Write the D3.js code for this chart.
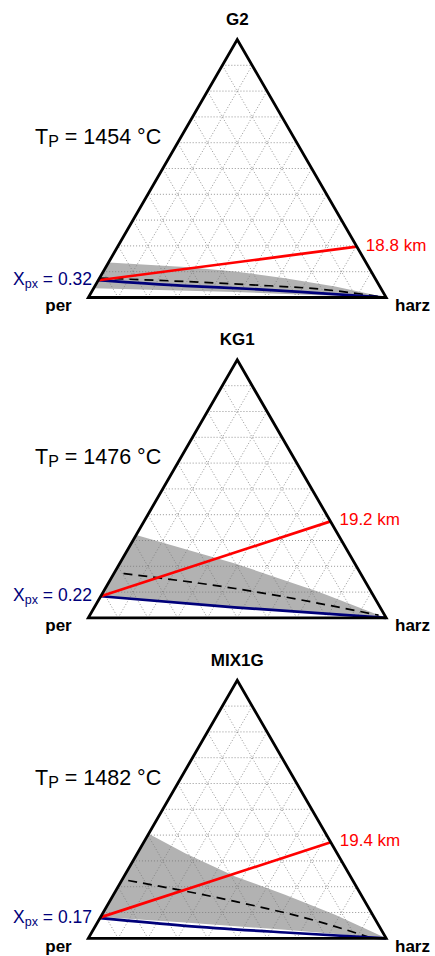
<!DOCTYPE html>
<html>
<head>
<meta charset="utf-8">
<script src="https://cdn.jsdelivr.net/npm/d3@7"></script>
<style>
  html, body { margin: 0; padding: 0; background: #fff; }
  svg { display: block; }
  text { font-family: "Liberation Sans", Arial, Helvetica, sans-serif; }
</style>
</head>
<body>
<svg id="chart" width="435" height="956"></svg>
<script>
'use strict';

// ternary points are [harz, top] fractions, per = 1 - harz - top
const panelNames = ['G2', 'KG1', 'MIX1G'];
const potentialTemps = ['1454', '1476', '1482'];
const xpxValues = ['0.32', '0.22', '0.17'];
const depthsKm = ['18.8', '19.2', '19.4'];

const redLines = [
    [[0, 0.067], [0.803, 0.197]],
    [[0, 0.084], [0.626, 0.374]],
    [[0, 0.081], [0.628, 0.372]]
];
const blueLines = [
    [[0, 0.067], [0.302, 0.045], [0.532, 0.033], [0.764, 0.017], [1, 0]],
    [[0, 0.084], [0.47, 0.041], [1, 0]],
    [[0, 0.078], [0.301, 0.0485], [0.65, 0.0225], [1, 0]]
];
const dashedLines = [
    [[0, 0.075], [0.294, 0.062], [0.524, 0.049], [0.756, 0.033], [1, 0]],
    [[0.032, 0.172], [0.436, 0.114], [0.969, 0.0105]],
    [[0.022, 0.224], [0.421, 0.143], [0.74, 0.065], [0.938, 0.005]]
];
const bandUpper = [
    [[0, 0.136], [0.266, 0.118], [0.442, 0.101], [0.623, 0.075], [0.807, 0.043], [1, 0]],
    [[0, 0.321], [0.387, 0.211], [0.722, 0.101], [1, 0]],
    [[0, 0.405], [0.16, 0.33], [0.373, 0.24], [0.576, 0.169], [0.783, 0.091], [1, 0]]
];
const bandLower = [
    [[0, 0.036], [0.482, 0.021], [0.767, 0.009], [1, 0]],
    [[0, 0.084], [0.47, 0.041], [1, 0]],
    [[0, 0.083], [0.294, 0.061], [0.644, 0.033], [1, 0]]
];
const gridSteps = [0.1, 0.2, 0.3, 0.4, 0.5, 0.6, 0.7, 0.8, 0.9];

const LEFT_X = 88.3;
const RIGHT_X = 386.2;
const TRI_HEIGHT = 258;
const FIRST_APEX = 39.5;
const PANEL_STEP = 320.4;
const RED = '#ff0000';
const NAVY = '#00007a';

const svg = d3.select('#chart');

const xScale = d3.scaleLinear().domain([0, 1]).range([LEFT_X, RIGHT_X]);

panelNames.forEach(function(name, k) {
    const apexY = FIRST_APEX + PANEL_STEP * k;
    const baseY = apexY + TRI_HEIGHT;
    const yScale = d3.scaleLinear().domain([0, 1]).range([baseY, apexY]);

    const px = function(p) { return xScale(p[0] + p[1] / 2); };
    const py = function(p) { return yScale(p[1]); };
    const line = d3.line().x(px).y(py);
    const curve = d3.line().x(px).y(py).curve(d3.curveMonotoneX);

    const g = svg.append('g').attr('class', 'panel');

    // grey range band
    const band = bandUpper[k].concat(bandLower[k].slice().reverse());
    g.append('path')
        .attr('d', d3.line().x(px).y(py)(band) + 'Z')
        .attr('fill', '#b2b2b2')
        .attr('stroke', 'none');

    // dotted ternary grid
    const gridLines = [];
    gridSteps.forEach(function(t) {
        gridLines.push([[0, t], [1 - t, t]]);
        gridLines.push([[t, 0], [t, 1 - t]]);
        gridLines.push([[1 - t, 0], [0, 1 - t]]);
    });
    g.append('g').selectAll('path')
        .data(gridLines)
        .join('path')
        .attr('d', line)
        .attr('fill', 'none')
        .attr('stroke', '#7a7a7a')
        .attr('stroke-width', 0.8)
        .attr('stroke-dasharray', '1,2');

    g.append('path')
        .attr('d', curve(dashedLines[k]))
        .attr('fill', 'none')
        .attr('stroke', '#000')
        .attr('stroke-width', 1.7)
        .attr('stroke-dasharray', '9,6');

    g.append('path')
        .attr('d', curve(blueLines[k]))
        .attr('fill', 'none')
        .attr('stroke', NAVY)
        .attr('stroke-width', 2.7);

    g.append('path')
        .attr('d', line(redLines[k]))
        .attr('fill', 'none')
        .attr('stroke', RED)
        .attr('stroke-width', 2.7);

    // triangle outline
    g.append('path')
        .attr('d', line([[0, 0], [1, 0], [0, 1]]) + 'Z')
        .attr('fill', 'none')
        .attr('stroke', '#000')
        .attr('stroke-width', 2.8)
        .attr('stroke-linejoin', 'miter');

    // texts
    g.append('text')
        .attr('x', xScale(0.5))
        .attr('y', apexY - 14.5)
        .attr('text-anchor', 'middle')
        .attr('font-weight', 'bold')
        .attr('font-size', 17)
        .text(name);

    const tp = g.append('text')
        .attr('x', 35)
        .attr('y', apexY + 104.5)
        .attr('font-size', 21.5);
    tp.append('tspan').text('T');
    tp.append('tspan').attr('font-size', 16).attr('dy', 3).text('P');
    tp.append('tspan').attr('dy', -3).text(' = ' + potentialTemps[k] + ' °C');

    const start = blueLines[k][0];
    const xl = g.append('text')
        .attr('x', 92)
        .attr('y', py(start) + 4.5)
        .attr('text-anchor', 'end')
        .attr('font-size', 17.5)
        .attr('fill', NAVY);
    xl.append('tspan').text('X');
    xl.append('tspan').attr('font-size', 12.5).attr('dy', 3).text('px');
    xl.append('tspan').attr('dy', -3).text(' = ' + xpxValues[k]);

    const redEnd = redLines[k][1];
    g.append('text')
        .attr('x', px(redEnd) + 9)
        .attr('y', py(redEnd) + 4)
        .attr('font-size', 17)
        .attr('fill', RED)
        .text(depthsKm[k] + ' km');

    g.append('text')
        .attr('x', 58.5)
        .attr('y', baseY + 13.3)
        .attr('text-anchor', 'middle')
        .attr('font-weight', 'bold')
        .attr('font-size', 17)
        .text('per');

    g.append('text')
        .attr('x', 412.5)
        .attr('y', baseY + 13.3)
        .attr('text-anchor', 'middle')
        .attr('font-weight', 'bold')
        .attr('font-size', 17)
        .text('harz');
});
</script>
</body>
</html>
